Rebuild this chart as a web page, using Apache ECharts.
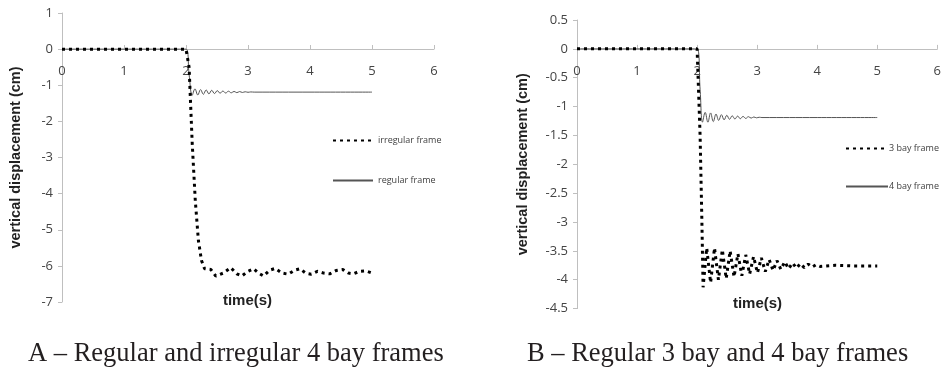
<!DOCTYPE html>
<html>
<head>
<meta charset="utf-8">
<script src="https://cdn.jsdelivr.net/npm/echarts@6/dist/echarts.min.js"></script>
<style>
html,body{margin:0;padding:0;background:#fff;}
#c{width:944px;height:370px;}
</style>
</head>
<body>
<div id="c"></div>
<script>
// ---------- Data ----------
// Chart A – Regular and irregular 4 bay frames
var irregularTimeA = [0, 1, 2.0, 2.05, 2.1, 2.15, 2.2, 2.25, 2.3, 2.4, 2.48, 2.6, 2.72, 2.82, 2.9, 3.0, 3.09, 3.17, 3.25, 3.35, 3.44, 3.55, 3.65, 3.75, 3.84, 3.93, 4.02, 4.12, 4.22, 4.32, 4.42, 4.53, 4.62, 4.7, 4.8, 4.9, 5.0];
var irregularA     = [0, 0, 0, -0.5, -2.6, -4.2, -5.3, -5.85, -6.08, -6.1, -6.28, -6.2, -6.05, -6.22, -6.28, -6.15, -6.08, -6.2, -6.28, -6.12, -6.07, -6.2, -6.23, -6.12, -6.08, -6.2, -6.23, -6.15, -6.2, -6.22, -6.13, -6.1, -6.2, -6.22, -6.15, -6.14, -6.2];
var regularTimeA = [0, 1, 2.0, 2.05, 2.1, 2.145, 2.19, 2.235, 2.28, 2.325, 2.37, 2.415, 2.46, 2.505, 2.55, 2.595, 2.64, 2.685, 2.73, 2.775, 2.82, 2.865, 2.91, 2.955, 3.0, 3.045, 3.1, 4.0, 5.0];
var regularA     = [0, 0, 0, -0.7, -1.28, -1.10, -1.27, -1.12, -1.25, -1.13, -1.24, -1.14, -1.23, -1.15, -1.22, -1.16, -1.215, -1.165, -1.21, -1.17, -1.205, -1.175, -1.2, -1.18, -1.195, -1.185, -1.19, -1.19, -1.19];

// Chart B – Regular 3 bay and 4 bay frames
var bay3TimeB = [0, 1, 2.0, 2.05, 2.08, 2.1, 2.16, 2.225, 2.29, 2.355, 2.42, 2.485, 2.55, 2.615, 2.68, 2.745, 2.81, 2.875, 2.94, 3.005, 3.07, 3.135, 3.2, 3.265, 3.33, 3.395, 3.46, 3.525, 3.59, 3.655, 3.72, 3.785, 3.85, 3.915, 3.98, 4.05, 4.3, 4.6, 5.0];
var bay3B     = [0, 0, 0, -1.5, -3.0, -4.13, -3.45, -4.05, -3.45, -4.0, -3.48, -3.98, -3.5, -3.95, -3.55, -3.93, -3.57, -3.9, -3.6, -3.88, -3.62, -3.86, -3.65, -3.84, -3.67, -3.82, -3.69, -3.81, -3.71, -3.8, -3.72, -3.79, -3.73, -3.78, -3.74, -3.77, -3.75, -3.76, -3.76];
var bay4TimeB = [0, 1, 2.0, 2.05, 2.09, 2.135, 2.18, 2.225, 2.27, 2.315, 2.36, 2.405, 2.45, 2.495, 2.54, 2.585, 2.63, 2.675, 2.72, 2.765, 2.81, 2.855, 2.9, 2.945, 2.99, 3.035, 3.08, 4.0, 5.0];
var bay4B     = [0, 0, 0, -0.7, -1.27, -1.10, -1.27, -1.11, -1.26, -1.13, -1.24, -1.14, -1.23, -1.15, -1.22, -1.16, -1.215, -1.165, -1.21, -1.17, -1.205, -1.175, -1.2, -1.18, -1.195, -1.185, -1.19, -1.19, -1.19];

// Axis settings
var xTicks = {min: 0, max: 6, interval: 1};
var yTicksA = {min: -7, max: 1, interval: 1};
var yTicksB = {min: -4.5, max: 0.5, interval: 0.5};

var seriesNamesA = ['irregular frame', 'regular frame'];
var seriesNamesB = ['3 bay frame', '4 bay frame'];
var captionA = 'A \u2013 Regular and irregular 4 bay frames';
var captionB = 'B \u2013 Regular 3 bay and 4 bay frames';
var yAxisTitle = 'vertical displacement (cm)';
var xAxisTitle = 'time(s)';

function pairs(t, v) { return t.map(function (x, i) { return [x, v[i]]; }); }

// ---------- Styles ----------
var FONT = 'Open Sans';
var axisGray = '#bfbfbf';
var labelColor = '#444';
var dotted = {color: '#000', width: 3, type: [3, 4], cap: 'butt'};
var thin = {color: '#555', width: 1, type: 'solid'};

// x axis sits on the y = 0 line: offset it up from the bottom of its grid
function xAxis(gridIndex, offset) {
  return {
    type: 'value', gridIndex: gridIndex, min: xTicks.min, max: xTicks.max, interval: xTicks.interval,
    position: 'bottom', offset: offset,
    axisLine: {onZero: false, lineStyle: {color: axisGray, width: 1}},
    axisTick: {show: true, inside: true, length: 4, lineStyle: {color: axisGray}},
    axisLabel: {fontFamily: FONT, fontSize: 13, color: labelColor, margin: 16},
    splitLine: {show: false}
  };
}
function yAxis(gridIndex, t, gap) {
  return {
    type: 'value', gridIndex: gridIndex, min: t.min, max: t.max, interval: t.interval,
    name: yAxisTitle, nameLocation: 'middle', nameGap: gap, nameRotate: 90,
    nameTextStyle: {fontFamily: 'Liberation Sans', fontWeight: 'bold', fontSize: 14.5, color: '#222'},
    axisLine: {show: true, onZero: false, lineStyle: {color: axisGray, width: 1}},
    axisTick: {show: true, inside: false, length: 4, lineStyle: {color: axisGray}},
    axisLabel: {fontFamily: FONT, fontSize: 13, color: labelColor, margin: 9},
    splitLine: {show: false}
  };
}

var legendBase = {
  orient: 'vertical', itemHeight: 10, selectedMode: false,
  itemStyle: {color: 'rgba(0,0,0,0)', borderWidth: 0, opacity: 0}
};

var chart = echarts.init(document.getElementById('c'), null, {renderer: 'canvas'});
chart.setOption({
  animation: false,
  backgroundColor: '#fff',
  grid: [
    {left: 62, top: 13, width: 372, height: 289, containLabel: false},
    {left: 577, top: 20, width: 361, height: 288.6, containLabel: false}
  ],
  xAxis: [xAxis(0, -253), xAxis(1, -259.7)],
  yAxis: [yAxis(0, yTicksA, 39), yAxis(1, yTicksB, 47)],
  legend: [
    Object.assign({}, legendBase, {
      data: seriesNamesA, left: 327, top: 131, itemWidth: 40, itemGap: 31,
      textStyle: {fontFamily: FONT, fontSize: 9, color: '#404040', padding: [0, 0, 0, 0]}
    }),
    Object.assign({}, legendBase, {
      data: seriesNamesB, left: 840, top: 139, itemWidth: 42, itemGap: 29,
      textStyle: {fontFamily: FONT, fontSize: 9, color: '#404040', padding: [0, 0, 0, -4]}
    })
  ],
  series: [
    {name: seriesNamesA[1], type: 'line', xAxisIndex: 0, yAxisIndex: 0, data: pairs(regularTimeA, regularA),
      showSymbol: false, symbol: 'none', smooth: 0.4, lineStyle: thin},
    {name: seriesNamesA[0], type: 'line', xAxisIndex: 0, yAxisIndex: 0, data: pairs(irregularTimeA, irregularA),
      showSymbol: false, symbol: 'none', smooth: false, lineStyle: dotted},
    {name: seriesNamesB[1], type: 'line', xAxisIndex: 1, yAxisIndex: 1, data: pairs(bay4TimeB, bay4B),
      showSymbol: false, symbol: 'none', smooth: 0.4, lineStyle: thin},
    {name: seriesNamesB[0], type: 'line', xAxisIndex: 1, yAxisIndex: 1, data: pairs(bay3TimeB, bay3B),
      showSymbol: false, symbol: 'none', smooth: false, lineStyle: dotted}
  ],
  graphic: [
    {type: 'text', x: 247.5, y: 301, style: {text: xAxisTitle, font: 'bold 15px "Liberation Sans"', fill: '#222', textAlign: 'center', textVerticalAlign: 'middle'}},
    {type: 'text', x: 757.5, y: 304, style: {text: xAxisTitle, font: 'bold 15px "Liberation Sans"', fill: '#222', textAlign: 'center', textVerticalAlign: 'middle'}},
    {type: 'text', x: 28, y: 354, style: {text: captionA, font: '26.5px "Liberation Serif"', fill: '#231f20', textAlign: 'left', textVerticalAlign: 'middle'}},
    {type: 'text', x: 527, y: 354, style: {text: captionB, font: '26.5px "Liberation Serif"', fill: '#231f20', textAlign: 'left', textVerticalAlign: 'middle'}}
  ]
});
</script>
</body>
</html>
